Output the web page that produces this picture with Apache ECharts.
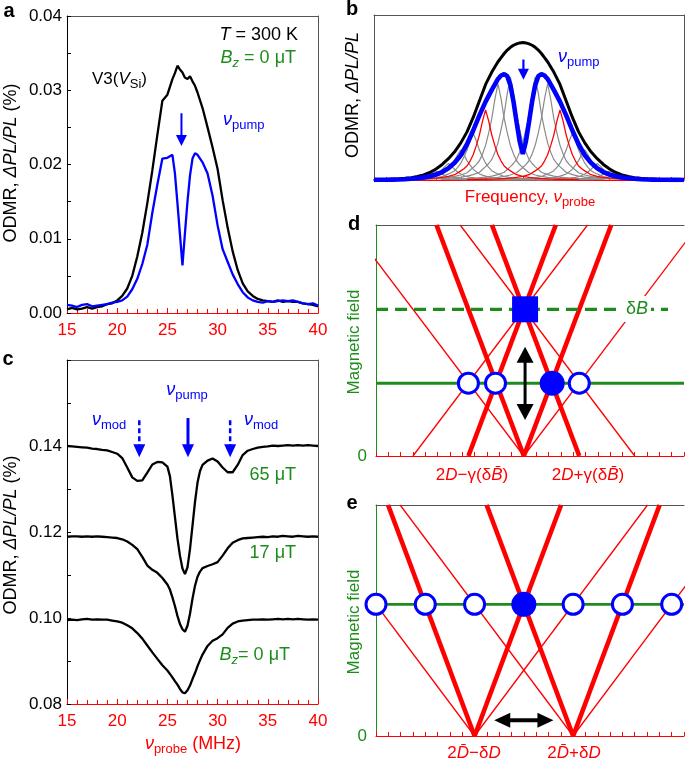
<!DOCTYPE html>
<html><head><meta charset="utf-8">
<script src="https://cdn.jsdelivr.net/npm/echarts@6/dist/echarts.min.js"></script>
<style>html,body{margin:0;padding:0;background:#fff}#c{width:685px;height:760px}</style>
</head><body><div id="c"></div>
<script>
// ---------------- DATA ----------------
// Panel a: probe frequency (MHz) and ODMR (%)
const freqA = [15,15.5,16,16.5,17,17.5,18,18.5,19,19.5,20,20.5,21,21.5,22,22.5,23,23.5,24,24.5,25,25.5,
  25.75,26,26.25,26.5,26.75,27,27.25,27.5,27.75,28,
  28.5,29,29.5,30,30.5,31,31.5,32,32.5,33,33.5,34,34.5,35,35.5,36,36.5,37,37.5,38,38.5,39,39.5,40];
const odmrBlackA = [0.0005,0.0007,0.0005,0.0006,0.0008,0.0006,0.0008,0.0009,0.0012,0.0013,0.0017,0.0023,0.0033,0.0050,0.0076,0.0108,0.0148,0.0192,0.0240,0.0286,0.0294,0.0315,
  0.0323,0.0333,0.0328,0.0324,0.0317,0.0315,0.0319,0.0312,0.0306,0.0297,
  0.0276,0.0250,0.0223,0.0194,0.0152,0.0115,0.0083,0.0058,0.0040,0.0029,0.0023,0.0019,0.0017,0.0016,0.0015,0.0017,0.0015,0.0016,0.0015,0.0015,0.0013,0.0012,0.0011,0.0009];
const odmrBlueA = [0.0011,0.0010,0.0008,0.0011,0.0012,0.0009,0.0010,0.0011,0.0012,0.0014,0.0015,0.0017,0.0022,0.0032,0.0046,0.0066,0.0092,0.0135,0.0173,0.0208,0.0209,0.0213,
  0.0188,0.0148,0.0106,0.0064,0.0108,0.0150,0.0185,0.0208,0.0215,0.0213,
  0.0203,0.0188,0.0158,0.0118,0.0086,0.0069,0.0052,0.0039,0.0028,0.0021,0.0017,0.0015,0.0014,0.0016,0.0015,0.0016,0.0017,0.0016,0.0017,0.0015,0.0013,0.0012,0.0013,0.0010];
const pumpArrowA = [[26.4, 0.0269, 26.4, 0.0225]];

// Panel b: schematic (arbitrary units)
const xB = [0,2,4,6,8,10,12,14,16,18,20,22,24,26,28,30,32,34,36,38,
  40,41,42,43,44,45,46,47,48,49,50,51,52,53,54,55,56,
  58,60,62,64,66,68,70,72,74,76,78,80,82,84,86,88,90,92,94,96,98,100];
const envelopeB = [0.002,0.003,0.004,0.006,0.008,0.012,0.017,0.025,0.037,0.055,0.08,0.113,0.155,0.205,0.27,0.35,0.455,0.575,0.695,0.785,
  0.86,0.89,0.92,0.945,0.965,0.98,0.99,0.997,1.0,0.997,0.99,0.98,0.965,0.945,0.92,0.89,0.86,
  0.785,0.695,0.575,0.455,0.35,0.27,0.205,0.155,0.113,0.08,0.055,0.037,0.025,0.017,0.012,0.008,0.006,0.004,0.003,0.002,0.0015,0.001];
const holeB = [0.001,0.0015,0.002,0.003,0.004,0.006,0.009,0.013,0.019,0.027,0.04,0.058,0.085,0.125,0.18,0.26,0.36,0.47,0.57,0.655,
  0.735,0.76,0.77,0.755,0.69,0.57,0.42,0.28,0.19,0.28,0.42,0.57,0.69,0.755,0.77,0.76,0.735,
  0.655,0.57,0.47,0.36,0.26,0.18,0.125,0.085,0.058,0.04,0.027,0.019,0.013,0.009,0.006,0.004,0.003,0.002,0.0015,0.001,0.001,0.0005];
const lineShapeOffsets = [0,1,2,3,4,5,6,7,8,10,12,14,16,20,24,30];
const lineShapeValues  = [1.0,0.84,0.64,0.49,0.36,0.27,0.2,0.16,0.13,0.075,0.052,0.038,0.028,0.017,0.011,0.006];
const grayCenters = [16,20,24,28,32,40,44,52,56,64,68,72,76,80];
const grayHeights = [0.035,0.065,0.12,0.22,0.34,0.70,0.75,0.75,0.70,0.34,0.22,0.12,0.065,0.035];
const redCenters = [36,60];
const redHeights = [0.51,0.51];
const pumpArrowB = [[48.2, 0.876, 48.2, 0.73]];

// Panel c
const freqC = [15,15.5,16,16.5,17,17.5,18,18.5,19,19.5,20,20.5,21,21.5,22,22.5,23,23.5,24,24.5,25,
  25.25,25.5,25.75,26,26.25,26.5,26.75,27,27.25,27.5,27.75,28,28.25,28.5,
  29,29.5,30,30.5,31,31.5,32,32.5,33,33.5,34,34.5,35,35.5,36,36.5,37,37.5,38,38.5,39,39.5,40];
const odmr65uT = [0.1400,0.1399,0.1398,0.1397,0.1396,0.1394,0.1393,0.1391,0.1390,0.1386,0.1382,0.1372,0.1350,0.1327,0.1319,0.1320,0.1338,0.1357,0.1363,0.1362,0.1352,
  0.1330,0.1285,0.1235,0.1185,0.1145,0.1115,0.1102,0.1118,0.1160,0.1215,0.1270,0.1315,0.1342,0.1356,
  0.1366,0.1371,0.1364,0.1350,0.1339,0.1339,0.1356,0.1379,0.1389,0.1393,0.1396,0.1398,0.1399,0.1401,0.1400,0.1401,0.1402,0.1401,0.1402,0.1401,0.1402,0.1401,0.1400];
const odmr17uT = [0.1189,0.1190,0.1190,0.1189,0.1190,0.1189,0.1190,0.1189,0.1188,0.1187,0.1186,0.1183,0.1178,0.1170,0.1160,0.1142,0.1122,0.1112,0.1105,0.1093,0.1078,
  0.1066,0.1048,0.1028,0.1005,0.0986,0.0974,0.0968,0.0982,0.1010,0.1045,0.1075,0.1096,0.1108,0.1116,
  0.1121,0.1125,0.1130,0.1145,0.1162,0.1175,0.1181,0.1185,0.1186,0.1187,0.1188,0.1189,0.1188,0.1190,0.1189,0.1191,0.1190,0.1189,0.1191,0.1190,0.1189,0.1190,0.1189];
const odmr0uT = [0.0995,0.0996,0.0995,0.0997,0.0998,0.0996,0.0997,0.0996,0.0996,0.0994,0.0992,0.0989,0.0983,0.0976,0.0965,0.0952,0.0936,0.0920,0.0905,0.0890,0.0878,
  0.0870,0.0862,0.0853,0.0845,0.0835,0.0827,0.0825,0.0832,0.0843,0.0858,0.0872,0.0888,0.0902,0.0915,
  0.0935,0.0947,0.0953,0.0962,0.0977,0.0987,0.0992,0.0994,0.0995,0.0996,0.0996,0.0997,0.0996,0.0997,0.0998,0.0997,0.0998,0.0997,0.0998,0.0997,0.0996,0.0997,0.0996];
const pumpArrowC = [[27.05, 0.1465, 27.05, 0.1374]];
const modArrowsC = [[22.2, 0.1460, 22.2, 0.1374],[31.25, 0.1460, 31.25, 0.1374]];

// Panel d: resonance lines as [frequency at field 0, frequency at field 1]
const dThickLines = [[12,4.91],[12,19.09],[7.5,14.59],[16.5,9.41]];
const dThinLines  = [[12,-2.17],[12,26.17],[3,17.17],[21,6.83]];
const dFieldSolid = 0.315;
const dFieldDashed = 0.635;
const dDashedEnd = 23.7;
const dOpenX = [7.5, 9.7, 16.5];
const dFilledX = [14.3];
const dSquare = [[12.1, 0.635]];
const dArrow = [[12.1, 0.156, 12.1, 0.473]];

// Panel e
const eThickLines = [[8,0.98],[8,15.02],[16,8.98],[16,23.02]];
const eThinLines  = [[8,-6.04],[8,22.04],[16,1.96],[16,30.04]];
const eField = 0.57;
const eOpenX = [0,4,8,16,20,24];
const eFilledX = [12];
const eArrow = [[9.6, 0.068, 14.4, 0.068]];

// ---------------- STYLE ----------------
const F = '"Liberation Sans", Arial, Helvetica, sans-serif';
const RED = '#ff0000', BLUE = '#0000ff', GREEN = '#1d8c1d', FRAME = '#555555', GRAY = '#8a8a8a';

function pairs(xs, ys){ return xs.map((x,i)=>[x, ys[i]]); }
function lineS(xi, yi, data, color, width, z, type){
  return {type:'line', xAxisIndex:xi, yAxisIndex:yi, data:data, symbol:'none', showSymbol:false,
    smooth:false, silent:true, clip:true, z:z||3, animation:false,
    lineStyle:{color:color, width:width, type:type||'solid', cap:'butt', opacity:1}};
}
function shape(c, h){
  const pts = [];
  for (let k = lineShapeOffsets.length-1; k > 0; k--) pts.push([c-lineShapeOffsets[k], h*lineShapeValues[k]]);
  for (let k = 0; k < lineShapeOffsets.length; k++) pts.push([c+lineShapeOffsets[k], h*lineShapeValues[k]]);
  return pts;
}
function arrowS(xi, yi, data, st){
  return {type:'custom', xAxisIndex:xi, yAxisIndex:yi, data:data, z:8, silent:true, clip:false, animation:false,
    encode:{x:[0,2], y:[1,3]},
    renderItem:function(params, api){
      const a = api.coord([api.value(0), api.value(1)]);
      const b = api.coord([api.value(2), api.value(3)]);
      const dx=b[0]-a[0], dy=b[1]-a[1], L=Math.sqrt(dx*dx+dy*dy);
      const ux=dx/L, uy=dy/L, nx=-uy, ny=ux, hl=st.headLen, hw=st.headWidth/2;
      function head(tip, ex, ey){
        const bx=tip[0]-ex*hl, by=tip[1]-ey*hl;
        return {type:'polygon', shape:{points:[[tip[0],tip[1]],[bx+nx*hw,by+ny*hw],[bx-nx*hw,by-ny*hw]]}, style:{fill:st.color}};
      }
      let s = a;
      const e = [b[0]-ux*hl*0.8, b[1]-uy*hl*0.8];
      const kids = [];
      if (st.double){ s = [a[0]+ux*hl*0.8, a[1]+uy*hl*0.8]; kids.push(head(a,-ux,-uy)); }
      const ls = {stroke:st.color, lineWidth:st.width};
      if (st.dash) ls.lineDash = st.dash;
      kids.push({type:'line', shape:{x1:s[0],y1:s[1],x2:e[0],y2:e[1]}, style:ls});
      kids.push(head(b,ux,uy));
      return {type:'group', children:kids};
    }};
}
function marker(xi, yi, data, sym, size, style){
  return {type:'scatter', xAxisIndex:xi, yAxisIndex:yi, data:data, symbol:sym, symbolSize:size,
    itemStyle:Object.assign({opacity:1}, style), emphasis:{disabled:true}, z:6, clip:false, silent:true, animation:false};
}
function bottomX(g, min, max, interval, o){
  return {type:'value', gridIndex:g, min:min, max:max, interval:interval, position:'bottom',
    axisLine:{show:true, onZero:false, lineStyle:{color:RED, width:o.lw||1}},
    axisTick:{show:true, inside:true, length:o.tick, lineStyle:{color:RED, width:1}},
    minorTick:{show:!!o.minor, splitNumber:o.minor||5, length:o.minorLen||4, lineStyle:{color:RED, width:1}},
    axisLabel:{show:!!o.labels, color:RED, fontSize:17, fontFamily:F, margin:9, hideOverlap:false},
    splitLine:{show:false}, minorSplitLine:{show:false}};
}
function frameX(g){ return {type:'value', gridIndex:g, min:0, max:1, position:'top',
  axisLine:{show:true, onZero:false, lineStyle:{color:FRAME, width:1}}, axisTick:{show:false}, axisLabel:{show:false}, splitLine:{show:false}}; }
function frameY(g){ return {type:'value', gridIndex:g, min:0, max:1, position:'right',
  axisLine:{show:true, onZero:false, lineStyle:{color:FRAME, width:1}}, axisTick:{show:false}, axisLabel:{show:false}, splitLine:{show:false}}; }
function dataY(g, min, max, interval, showMax){
  return {type:'value', gridIndex:g, min:min, max:max, interval:interval, position:'left',
    axisLine:{show:true, onZero:false, lineStyle:{color:'#000', width:1}},
    axisTick:{show:true, inside:true, length:4, lineStyle:{color:'#000'}},
    minorTick:{show:true, splitNumber:2, length:4, lineStyle:{color:'#000'}},
    axisLabel:{color:'#000', fontSize:17, fontFamily:F, margin:5, showMaxLabel:showMax, hideOverlap:false,
      formatter:function(v){ return v.toFixed(2); }},
    splitLine:{show:false}, minorSplitLine:{show:false}};
}
function fieldY(g){
  return {type:'value', gridIndex:g, min:0, max:1, interval:1, position:'left',
    axisLine:{show:true, onZero:false, lineStyle:{color:GREEN, width:1}}, axisTick:{show:false},
    axisLabel:{color:GREEN, fontSize:17, fontFamily:F, margin:9, formatter:function(v){ return v===0 ? '0' : ''; }},
    splitLine:{show:false}};
}
function T(x, y, text, size, color, o){
  o = o || {};
  const sub = Math.round(size*0.74), pad = Math.round(size*0.62);
  const st = {text:text, fontFamily:F, fontSize:size, fill:color, align:o.align||'center', verticalAlign:'middle',
    rich:{
      n:{fontFamily:F, fontSize:size, fill:color},
      i:{fontFamily:F, fontSize:size, fill:color, fontStyle:'italic'},
      b:{fontFamily:F, fontSize:size, fill:color, fontWeight:'bold'},
      s:{fontFamily:F, fontSize:sub, fill:color, padding:[pad,0,0,0]},
      si:{fontFamily:F, fontSize:sub, fill:color, fontStyle:'italic', padding:[pad,0,0,0]}
    }};
  if (o.bg){ st.backgroundColor = o.bg; st.padding = o.pad; }
  return {type:'text', x:x, y:y, z:100, zlevel:0, rotation:o.rot||0, silent:true, style:st};
}

// ---------------- SERIES ----------------
const series = [];
// a
series.push(lineS(0,0,pairs(freqA, odmrBlackA), '#000', 2.3, 3));
series.push(lineS(0,0,pairs(freqA, odmrBlueA), BLUE, 2.3, 4));
series.push(arrowS(0,0,pumpArrowA,{color:BLUE, width:2, headLen:11, headWidth:11}));
// b
grayCenters.forEach((c,i)=>series.push(lineS(2,2,shape(c, grayHeights[i]), GRAY, 1.2, 2)));
redCenters.forEach((c,i)=>series.push(lineS(2,2,shape(c, redHeights[i]), RED, 1.3, 3)));
series.push(lineS(2,2,pairs(xB, envelopeB), '#000', 3, 4));
series.push(lineS(2,2,pairs(xB, holeB), BLUE, 4.6, 5));
series.push(arrowS(2,2,pumpArrowB,{color:BLUE, width:2.2, headLen:11, headWidth:11}));
// c
series.push(lineS(4,4,pairs(freqC, odmr65uT), '#000', 2.3, 3));
series.push(lineS(4,4,pairs(freqC, odmr17uT), '#000', 2.3, 3));
series.push(lineS(4,4,pairs(freqC, odmr0uT), '#000', 2.3, 3));
series.push(arrowS(4,4,pumpArrowC,{color:BLUE, width:3, headLen:13, headWidth:12}));
series.push(arrowS(4,4,modArrowsC,{color:BLUE, width:2.5, headLen:13, headWidth:12, dash:[5,3]}));
// d
dThinLines.forEach(l=>series.push(lineS(6,6,[[l[0],0],[l[1],1]], RED, 1.3, 3)));
dThickLines.forEach(l=>series.push(lineS(6,6,[[l[0],0],[l[1],1]], RED, 4.6, 3)));
series.push(lineS(6,6,[[0,dFieldSolid],[25,dFieldSolid]], GREEN, 2.8, 4));
series.push(lineS(6,6,[[0,dFieldDashed],[dDashedEnd,dFieldDashed]], GREEN, 3.2, 4, [12,7]));
series.push(marker(6,6,dOpenX.map(x=>[x,dFieldSolid]), 'circle', 20, {color:'#fff', borderColor:BLUE, borderWidth:3}));
series.push(marker(6,6,dFilledX.map(x=>[x,dFieldSolid]), 'circle', 25, {color:BLUE}));
series.push(marker(6,6,dSquare, 'rect', 26, {color:BLUE}));
series.push(arrowS(6,6,dArrow,{color:'#000', width:3, headLen:16, headWidth:17, double:true}));
// e
eThinLines.forEach(l=>series.push(lineS(8,7,[[l[0],0],[l[1],1]], RED, 1.3, 3)));
eThickLines.forEach(l=>series.push(lineS(8,7,[[l[0],0],[l[1],1]], RED, 4.6, 3)));
series.push(lineS(8,7,[[0,eField],[25,eField]], GREEN, 2.8, 4));
series.push(marker(8,7,eOpenX.map(x=>[x,eField]), 'circle', 20, {color:'#fff', borderColor:BLUE, borderWidth:3}));
series.push(marker(8,7,eFilledX.map(x=>[x,eField]), 'circle', 25, {color:BLUE}));
series.push(arrowS(8,7,eArrow,{color:'#000', width:4, headLen:16, headWidth:15, double:true}));

// ---------------- TEXT ----------------
const graphics = [
  T(9, 11, '{b|a}', 20, '#000'),
  T(352, 9, '{b|b}', 20, '#000'),
  T(8, 359, '{b|c}', 20, '#000'),
  T(354, 224, '{b|d}', 20, '#000'),
  T(352, 503, '{b|e}', 20, '#000'),
  // y titles
  T(11, 163, '{n|ODMR, }{i|ΔPL/PL}{n| (%)}', 18, '#000', {rot:Math.PI/2}),
  T(11, 535, '{n|ODMR, }{i|ΔPL/PL}{n| (%)}', 18, '#000', {rot:Math.PI/2}),
  T(353, 95, '{n|ODMR, }{i|ΔPL/PL}', 18, '#000', {rot:Math.PI/2}),
  T(354, 342, '{n|Magnetic field}', 17, GREEN, {rot:Math.PI/2}),
  T(354, 622, '{n|Magnetic field}', 17, GREEN, {rot:Math.PI/2}),
  // a
  T(298, 35, '{i|T}{n| = 300 K}', 18, '#000', {align:'right'}),
  T(296, 58, '{i|B}{si|z}{n| = 0 μT}', 18, GREEN, {align:'right'}),
  T(92, 79, '{n|V3(}{i|V}{s|Si}{n|)}', 17, '#000', {align:'left'}),
  T(223, 120, '{i|ν}{s|pump}', 18, BLUE, {align:'left'}),
  // b
  T(558, 57, '{i|ν}{s|pump}', 18, BLUE, {align:'left'}),
  T(530, 197, '{n|Frequency, }{i|ν}{s|probe}', 17, RED),
  // c
  T(187, 390, '{i|ν}{s|pump}', 18, BLUE),
  T(92, 420, '{i|ν}{s|mod}', 18, BLUE, {align:'left'}),
  T(244, 420, '{i|ν}{s|mod}', 18, BLUE, {align:'left'}),
  T(296, 475, '{n|65 μT}', 18, GREEN, {align:'right'}),
  T(296, 553, '{n|17 μT}', 18, GREEN, {align:'right'}),
  T(290, 655, '{i|B}{si|z}{n|= 0 μT}', 18, GREEN, {align:'right'}),
  T(193, 744, '{i|ν}{s|probe}{n| (MHz)}', 18, RED),
  // d
  T(637, 309, '{n|δ}{i|B}', 18, GREEN, {bg:'#fff', pad:[4,3,4,3]}),
  T(472, 475, '{n|2}{i|D}{n|−γ(δ}{i|B\u0304}{n|)}', 17, RED),
  T(588, 475, '{n|2}{i|D}{n|+γ(δ}{i|B\u0304}{n|)}', 17, RED),
  // e
  T(474, 753, '{n|2}{i|D\u0304}{n|−δ}{i|D}', 17, RED),
  T(574, 753, '{n|2}{i|D\u0304}{n|+δ}{i|D}', 17, RED)
];

const option = {
  animation:false,
  backgroundColor:'#fff',
  grid:[
    {left:67, top:16, width:251, height:297, outerBoundsMode:'none'},
    {left:374, top:15, width:310, height:165, outerBoundsMode:'none'},
    {left:67, top:360, width:251, height:344, outerBoundsMode:'none'},
    {left:376, top:225, width:308, height:231, outerBoundsMode:'none'},
    {left:376, top:505, width:308, height:231, outerBoundsMode:'none'}
  ],
  xAxis:[
    bottomX(0, 15, 40, 5, {tick:5, minor:5, minorLen:4, labels:true}),
    frameX(0),
    bottomX(1, 0, 100, 4, {tick:3}),
    frameX(1),
    bottomX(2, 15, 40, 5, {tick:5, minor:5, minorLen:4, labels:true}),
    frameX(2),
    bottomX(3, 0, 25, 1, {tick:4, lw:1.2}),
    frameX(3),
    bottomX(4, 0, 25, 1, {tick:4, lw:1.2}),
    frameX(4)
  ],
  yAxis:[
    dataY(0, 0, 0.04, 0.01, true),
    frameY(0),
    {type:'value', gridIndex:1, min:0, max:1.2, position:'left',
      axisLine:{show:true, onZero:false, lineStyle:{color:FRAME, width:1}}, axisTick:{show:false}, axisLabel:{show:false}, splitLine:{show:false}},
    frameY(1),
    dataY(2, 0.08, 0.16, 0.02, false),
    frameY(2),
    fieldY(3),
    fieldY(4)
  ],
  series:series,
  graphic:graphics
};
const chart = echarts.init(document.getElementById('c'), null, {renderer:'canvas', width:685, height:760});
chart.setOption(option);
</script></body></html>
